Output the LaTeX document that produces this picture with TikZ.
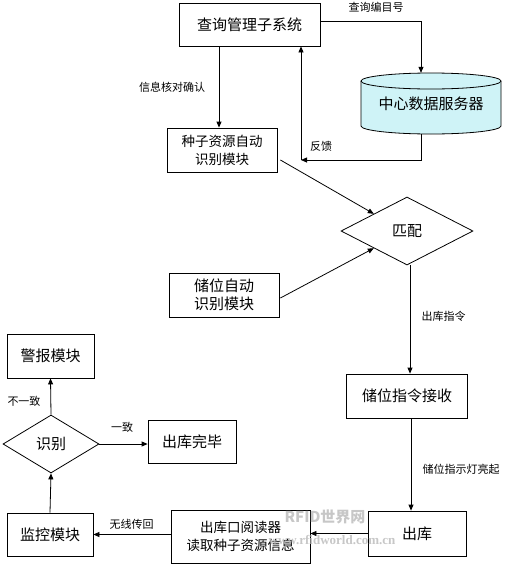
\documentclass[tikz,border=0pt]{standalone}
\usepackage{fontspec}
\setmainfont{Noto Sans CJK SC}
\newfontfamily\wmfont{Liberation Serif}
\usetikzlibrary{shapes.geometric,arrows.meta}
\definecolor{cylfill}{HTML}{CFF3F7}
\tikzset{
  box/.style={draw, line width=0.8pt, inner sep=0pt, align=center, font=\fontsize{15}{18}\selectfont},
  box2/.style={box, font=\fontsize{13.5}{18}\selectfont},
  dia/.style={draw, diamond, line width=0.8pt, inner sep=0pt, font=\fontsize{15}{18}\selectfont},
  conn/.style={line width=0.8pt, -{Triangle[length=6pt,width=5pt]}},
  plain/.style={line width=0.8pt},
  lbl/.style={inner sep=0pt, font=\fontsize{11}{13}\selectfont},
  wm/.style={inner sep=0pt, text=gray!55, opacity=0.8, font=\wmfont\bfseries}
}
\begin{document}
\begin{tikzpicture}[x=1pt,y=-1pt]
\useasboundingbox (0,0) rectangle (504,565);
% nodes
\node[box, minimum width=141pt, minimum height=43pt] (qm) at (249.5,24.5) {查询管理子系统};
\node[box2, minimum width=110pt, minimum height=44pt] (seed) at (222,150) {种子资源自动\\识别模块};
\node[dia, minimum width=132pt, minimum height=68pt] (match) at (407,231) {匹配};
\node[box, minimum width=110pt, minimum height=44pt] (store) at (224,295) {储位自动\\识别模块};
\node[box, minimum width=121pt, minimum height=44pt] (recv) at (407,396) {储位指令接收};
\node[box, minimum width=98pt, minimum height=45pt] (out) at (417,533.5) {出库};
\node[box2, minimum width=139pt, minimum height=53pt] (reader) at (240.5,536.5) {出库口阅读器\\读取种子资源信息};
\node[box, minimum width=86pt, minimum height=43pt] (mon) at (50,534.5) {监控模块};
\node[dia, minimum width=96pt, minimum height=58pt] (id) at (51,444) {识别};
\node[box, minimum width=88pt, minimum height=43pt] (done) at (192,441.5) {出库完毕};
\node[box, minimum width=87pt, minimum height=44pt] (alarm) at (50.5,356) {警报模块};
% cylinder
\path[fill=cylfill, draw, line width=0.8pt] (361,81) -- (361,126)
  arc[start angle=180, end angle=360, x radius=70pt, y radius=8pt] -- (501,81)
  arc[start angle=0, end angle=180, x radius=70pt, y radius=8pt] -- cycle;
\draw[plain] (361,81) arc[start angle=180, end angle=360, x radius=70pt, y radius=8pt];
\node[inner sep=0pt, minimum width=140pt, minimum height=61pt, font=\fontsize{15}{18}\selectfont] (db) at (431,103.5) {\raisebox{-4pt}{中心数据服务器}};
% connectors
\draw[conn] ([yshift=3pt]qm.east) -| ([xshift=-10pt]db.north);
\coordinate (fb) at (301,160);
\draw[conn] ([xshift=-10pt]db.south) |- (fb);
\draw[conn] (fb) -- (fb |- qm.south);
\draw[conn] ([xshift=-3pt]seed.north |- qm.south) -- ([xshift=-3pt]seed.north);
\draw[conn] ([shift={(3,10)}]seed.east) -- (match.north west);
\draw[conn] ([shift={(1,3)}]store.east) -- (match.south west);
\draw[conn] ([xshift=3pt]match.south) -- ([xshift=3pt]match.south |- recv.north);
\draw[conn] ([xshift=4pt]recv.south) -- ([xshift=4pt]recv.south |- out.north);
\draw[conn] (out.west) -- (out.west -| reader.east);
\draw[conn] (reader.west |- mon.east) -- (mon.east);
\draw[conn] (mon.north) -- (id.south);
\draw[conn] (id.east) -- (id.east -| done.west);
\draw[conn] (id.north) -- (alarm.south);
% labels
\node[lbl] (l1) at (376,7) {查询编目号};
\node[lbl] (l2) at (172,87) {信息核对确认};
\node[lbl] (l3) at (321,146) {反馈};
\node[lbl] (l4) at (443.5,316) {出库指令};
\node[lbl] (l5) at (461,469) {储位指示灯亮起};
\node[lbl] (l6) at (131.5,524) {无线传回};
\node[lbl] (l7) at (122,427) {一致};
\node[lbl] (l8) at (24,401) {不一致};
% watermark
\node[wm, font=\fontsize{15}{17}\selectfont\bfseries] (w1) at (325,517) {RFID世界网};
\node[wm, font=\wmfont\fontsize{13}{15}\selectfont\bfseries] (w2) at (332,540) {www.rfidworld.com.cn};
\end{tikzpicture}
\end{document}
